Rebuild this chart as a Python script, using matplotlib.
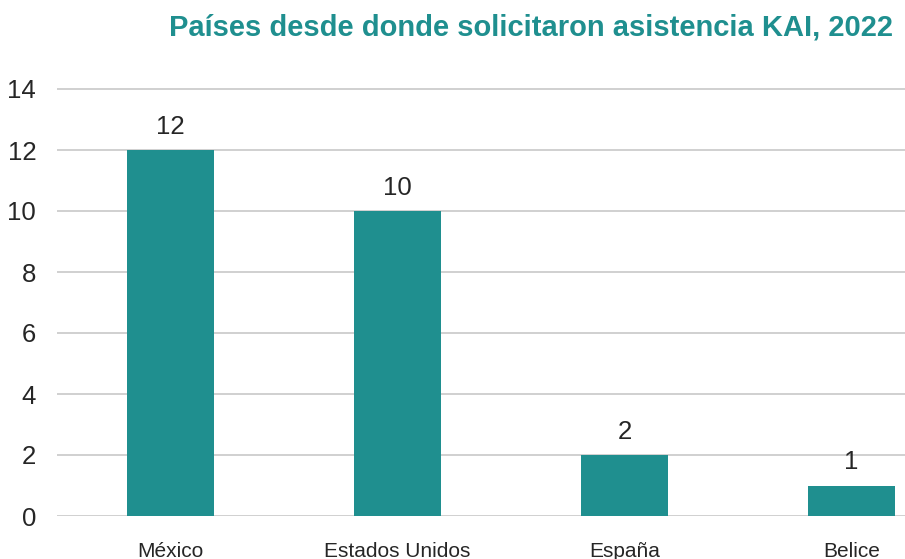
import matplotlib
matplotlib.use('Agg')
import matplotlib.pyplot as plt

plt.rcParams['font.family'] = ['Liberation Sans', 'DejaVu Sans']

TEAL = '#1f8f8f'
TEXT = '#262626'

paises = ['México', 'Estados Unidos', 'España', 'Belice']
solicitudes = [12, 10, 2, 1]
yticks = [0, 2, 4, 6, 8, 10, 12, 14]

W, H = 905, 559


def main():
    fig = plt.figure(figsize=(W / 100, H / 100), dpi=100)
    ymax = 14.2
    px_per_unit = (516 - 89) / 14
    ax = fig.add_axes([57 / W, 43 / H, 908 / W, px_per_unit * ymax / H])

    x = range(len(paises))
    bars = ax.bar(x, solicitudes, width=0.38, color=TEAL, zorder=3)
    for b, v in zip(bars, solicitudes):
        ax.annotate(str(v), (b.get_x() + b.get_width() / 2, v),
                    xytext=(0, 8), textcoords='offset points',
                    ha='center', va='bottom', fontsize=18.5, color=TEXT)

    ax.set_xlim(-0.5, 3.5)
    ax.set_ylim(0, ymax)
    ax.set_yticks(yticks)
    ax.set_xticks(list(x))
    ax.set_xticklabels(paises)
    ax.grid(axis='y', color='#c8c8c8', linewidth=1.2, zorder=0)
    for s in ax.spines.values():
        s.set_visible(False)
    ax.tick_params(axis='x', length=0, pad=19, labelsize=15, labelcolor=TEXT)
    ax.tick_params(axis='y', length=0, pad=15, labelsize=18.5, labelcolor=TEXT)

    fig.text(893 / W, 1 - 27 / H, 'Países desde donde solicitaron asistencia KAI, 2022',
             ha='right', va='center', fontsize=21, fontweight='bold', color=TEAL)

    fig.savefig('out.png', dpi=100)


if __name__ == '__main__':
    main()
